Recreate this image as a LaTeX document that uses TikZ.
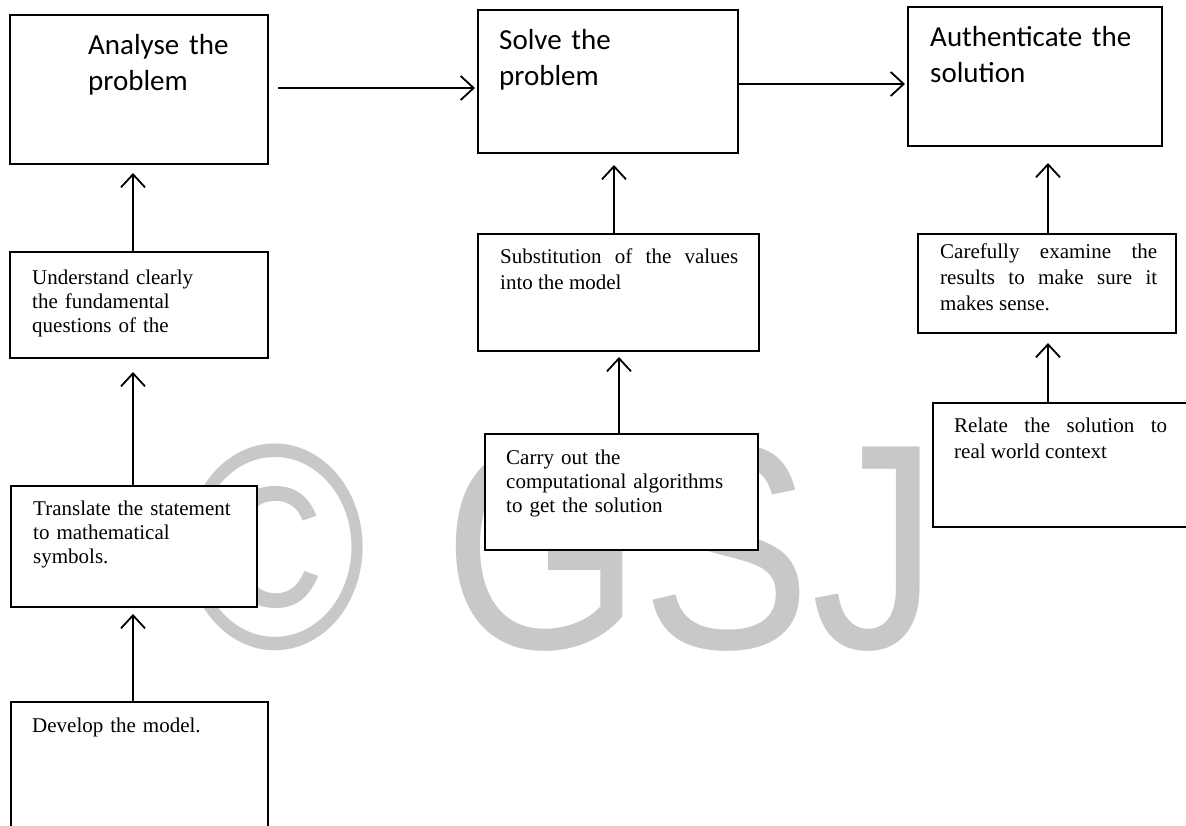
\documentclass[tikz,border=0pt]{standalone}
\usepackage{fontspec}
\setmainfont{Liberation Serif}
\newfontfamily\calib{Carlito}
\newfontfamily\wmfont{Liberation Sans}
\usetikzlibrary{arrows.meta}
\definecolor{wmgray}{RGB}{200,200,200}

\begin{document}
\begin{tikzpicture}[x=1pt,y=-1pt,
  box/.style={draw,line width=2pt,fill=white,inner sep=0pt},
  bigtxt/.style={anchor=base west,inner sep=0pt,text width=240,align=left,font=\calib\fontsize{29}{36}\selectfont},
  smalltxt/.style={anchor=base west,inner sep=0pt,text width=235,align=left,font=\fontsize{21}{24}\selectfont},
  justtxt/.style={anchor=base west,inner sep=0pt,align=justify,font=\fontsize{21}{26}\selectfont},
  arr/.style={line width=1.8pt,-{Straight Barb[length=13pt,width=24pt]}},
  wm/.style={anchor=base,inner sep=0pt,text=wmgray}]
\fill[white] (0,0) rectangle (1186,825);
\useasboundingbox (0,0) rectangle (1186,825);

\node[wm] (copyr) at (275,648) {\scalebox{.85}[1]{\wmfont\fontsize{293}{293}\selectfont ©}};
\node[wm,anchor=base west] (gsj) at (443,648) {\scalebox{.87}[1]{\wmfont\fontsize{293}{293}\selectfont GSJ}};

\node[box,minimum width=258,minimum height=149] (analyse) at (139,89.5) {};
\node[box,minimum width=260,minimum height=143] (solve) at (608,81.5) {};
\node[box,minimum width=254,minimum height=139] (auth) at (1035,76.5) {};
\node[box,minimum width=258,minimum height=106] (underst) at (139,305) {};
\node[box,minimum width=246,minimum height=121] (transl) at (134,546.5) {};
\node[box,minimum width=257,minimum height=138] (develop) at (139.5,771) {};
\node[box,minimum width=281,minimum height=117] (subst) at (618.5,292.5) {};
\node[box,minimum width=273,minimum height=116] (carry) at (621.5,492) {};
\node[box,minimum width=258,minimum height=99] (careful) at (1047,283.5) {};
\node[box,minimum width=257,minimum height=124] (relate) at (1061.5,465) {};

\node[bigtxt] (analyset) at (88,54) {Analyse the\\problem};
\node[bigtxt] (solvet) at (499,49) {Solve the\\problem};
\node[bigtxt] (autht) at (930,46) {Authenticate the\\solution};
\node[smalltxt] (understt) at (32,284) {Understand clearly\\the fundamental\\questions of the};
\node[smalltxt] (translt) at (33,515) {Translate the statement\\to mathematical\\symbols.};
\node[smalltxt] (developt) at (32,732) {Develop the model.};
\node[justtxt,text width=238] (substt) at (500,263) {Substitution of the values\linebreak into the model};
\node[smalltxt] (carryt) at (506,464) {Carry out the\\computational algorithms\\to get the solution};
\node[justtxt,text width=217] (carefult) at (940,258) {Carefully examine the\linebreak results to make sure it\linebreak makes sense.};
\node[justtxt,text width=213] (relatet) at (954,432) {Relate the solution to\linebreak real world context};

\draw[arr] ([xshift=-6pt]underst.north) -- ([xshift=-6pt,yshift=-8pt]analyse.south);
\draw[arr] ([xshift=-1pt]transl.north) -- ([xshift=-6pt,yshift=-13pt]underst.south);
\draw[arr] ([xshift=-6.5pt]develop.north) -- ([xshift=-1pt,yshift=-6pt]transl.south);
\draw[arr] ([xshift=9pt,yshift=1.5pt]analyse.east) -- ([xshift=-2pt,yshift=-6.5pt]solve.west);
\draw[arr] ([yshift=-2.5pt]solve.east) -- ([xshift=-2pt,yshift=-7.5pt]auth.west);
\draw[arr] ([xshift=-4.5pt]subst.north) -- ([xshift=6pt,yshift=-11pt]solve.south);
\draw[arr] ([xshift=-2.5pt]carry.north) -- ([xshift=0.5pt,yshift=-5pt]subst.south);
\draw[arr] ([xshift=1pt]careful.north) -- ([xshift=13pt,yshift=-16pt]auth.south);
\draw[arr] ([xshift=-13.5pt]relate.north) -- ([xshift=1pt,yshift=-9pt]careful.south);
\end{tikzpicture}
\end{document}
